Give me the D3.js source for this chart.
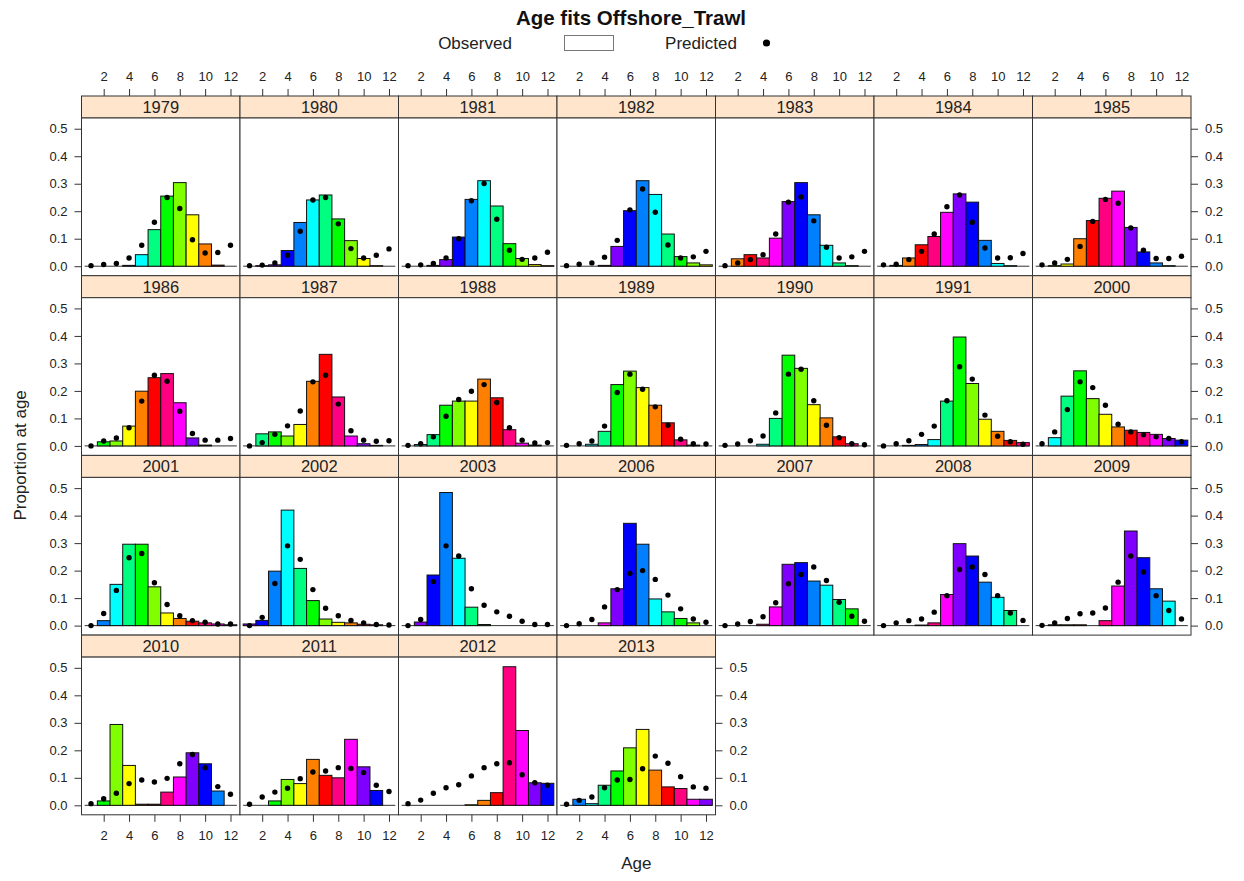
<!DOCTYPE html>
<html>
<head>
<meta charset="utf-8">
<script src="https://cdn.jsdelivr.net/npm/d3@7"></script>
<style>
  body { margin: 0; background: #fff; }
  text { font-family: "Liberation Sans", Arial, Helvetica, sans-serif; }
</style>
</head>
<body>
<svg id="chart" width="1244" height="881"></svg>
<script>
// Survey years, one panel each
const years = [1979, 1980, 1981, 1982, 1983, 1984, 1985,
               1986, 1987, 1988, 1989, 1990, 1991, 2000,
               2001, 2002, 2003, 2006, 2007, 2008, 2009,
               2010, 2011, 2012, 2013];

const ages = [1, 2, 3, 4, 5, 6, 7, 8, 9, 10, 11, 12];

// Observed proportion at age (rows follow `years`, columns follow `ages`)
const observed = [
  [0, 0, 0, 0.003, 0.042, 0.133, 0.255, 0.304, 0.187, 0.081, 0.004, 0],
  [0, 0.002, 0.005, 0.057, 0.159, 0.241, 0.259, 0.172, 0.093, 0.028, 0.002, 0],
  [0, 0, 0.003, 0.024, 0.106, 0.243, 0.311, 0.219, 0.082, 0.028, 0.006, 0.002],
  [0, 0, 0, 0.003, 0.072, 0.202, 0.311, 0.261, 0.117, 0.035, 0.012, 0.005],
  [0, 0.027, 0.042, 0.030, 0.102, 0.235, 0.304, 0.187, 0.076, 0.012, 0.002, 0],
  [0, 0.003, 0.030, 0.078, 0.108, 0.196, 0.263, 0.233, 0.094, 0.010, 0.002, 0],
  [0, 0.002, 0.008, 0.100, 0.166, 0.247, 0.273, 0.141, 0.052, 0.012, 0.002, 0],
  [0, 0.015, 0.018, 0.072, 0.199, 0.248, 0.263, 0.157, 0.029, 0.003, 0, 0],
  [0, 0.044, 0.051, 0.036, 0.078, 0.235, 0.333, 0.178, 0.036, 0.008, 0.002, 0],
  [0, 0.005, 0.041, 0.148, 0.163, 0.163, 0.243, 0.175, 0.059, 0.010, 0.003, 0],
  [0, 0, 0.006, 0.053, 0.223, 0.272, 0.212, 0.148, 0.084, 0.022, 0.003, 0],
  [0, 0, 0, 0.006, 0.100, 0.330, 0.282, 0.150, 0.102, 0.033, 0.008, 0],
  [0, 0, 0.002, 0.005, 0.023, 0.163, 0.396, 0.227, 0.097, 0.053, 0.020, 0.012],
  [0, 0.030, 0.181, 0.273, 0.172, 0.115, 0.069, 0.057, 0.049, 0.042, 0.027, 0.021],
  [0, 0.018, 0.150, 0.296, 0.296, 0.141, 0.046, 0.026, 0.016, 0.010, 0.006, 0.003],
  [0.006, 0.019, 0.198, 0.420, 0.208, 0.091, 0.024, 0.012, 0.010, 0.005, 0.003, 0],
  [0, 0.013, 0.184, 0.484, 0.245, 0.067, 0.004, 0, 0, 0, 0, 0],
  [0, 0, 0, 0.010, 0.134, 0.372, 0.296, 0.097, 0.050, 0.026, 0.010, 0],
  [0, 0, 0, 0.005, 0.068, 0.223, 0.229, 0.162, 0.147, 0.095, 0.061, 0],
  [0, 0, 0, 0.002, 0.010, 0.113, 0.298, 0.253, 0.158, 0.103, 0.055, 0],
  [0, 0.003, 0.003, 0.003, 0, 0.018, 0.144, 0.344, 0.247, 0.134, 0.089, 0],
  [0, 0.016, 0.294, 0.145, 0.004, 0.004, 0.048, 0.103, 0.191, 0.151, 0.052, 0],
  [0, 0, 0.016, 0.094, 0.079, 0.167, 0.109, 0.100, 0.240, 0.140, 0.054, 0],
  [0, 0, 0, 0, 0, 0.002, 0.018, 0.046, 0.504, 0.272, 0.082, 0.080],
  [0, 0.022, 0.006, 0.073, 0.125, 0.209, 0.276, 0.128, 0.067, 0.061, 0.022, 0.022]
];

// Model-predicted proportion at age
const predicted = [
  [0.002, 0.006, 0.010, 0.030, 0.076, 0.160, 0.250, 0.210, 0.096, 0.048, 0.050, 0.076],
  [0.002, 0.004, 0.012, 0.040, 0.127, 0.241, 0.250, 0.154, 0.064, 0.030, 0.040, 0.063],
  [0.002, 0.005, 0.010, 0.030, 0.100, 0.238, 0.301, 0.171, 0.058, 0.025, 0.030, 0.051],
  [0.002, 0.007, 0.012, 0.033, 0.094, 0.205, 0.281, 0.196, 0.077, 0.030, 0.034, 0.054],
  [0.002, 0.012, 0.024, 0.042, 0.117, 0.233, 0.252, 0.165, 0.069, 0.030, 0.034, 0.054],
  [0.005, 0.007, 0.024, 0.054, 0.117, 0.216, 0.259, 0.160, 0.066, 0.030, 0.031, 0.046],
  [0.005, 0.012, 0.025, 0.072, 0.163, 0.243, 0.229, 0.139, 0.058, 0.028, 0.028, 0.036],
  [0, 0.018, 0.029, 0.066, 0.163, 0.257, 0.235, 0.126, 0.045, 0.021, 0.021, 0.027],
  [0, 0.012, 0.042, 0.073, 0.127, 0.233, 0.257, 0.152, 0.055, 0.021, 0.017, 0.019],
  [0.002, 0.008, 0.033, 0.108, 0.169, 0.199, 0.223, 0.158, 0.066, 0.021, 0.011, 0.012],
  [0.002, 0.008, 0.018, 0.072, 0.194, 0.261, 0.206, 0.142, 0.075, 0.024, 0.008, 0.007],
  [0.002, 0.007, 0.019, 0.036, 0.120, 0.261, 0.279, 0.164, 0.075, 0.030, 0.008, 0.004],
  [0, 0.008, 0.019, 0.042, 0.072, 0.164, 0.288, 0.243, 0.112, 0.035, 0.015, 0.006],
  [0.008, 0.051, 0.132, 0.233, 0.212, 0.148, 0.079, 0.051, 0.041, 0.033, 0.027, 0.015],
  [0, 0.044, 0.128, 0.247, 0.262, 0.156, 0.077, 0.036, 0.018, 0.012, 0.006, 0.006],
  [0, 0.030, 0.153, 0.290, 0.241, 0.131, 0.063, 0.036, 0.019, 0.010, 0.004, 0.002],
  [0, 0.022, 0.160, 0.290, 0.253, 0.134, 0.074, 0.050, 0.034, 0.016, 0.004, 0.004],
  [0, 0.007, 0.022, 0.068, 0.131, 0.190, 0.200, 0.168, 0.111, 0.061, 0.024, 0.012],
  [0, 0.006, 0.015, 0.032, 0.083, 0.152, 0.186, 0.213, 0.164, 0.085, 0.034, 0.016],
  [0, 0.010, 0.018, 0.024, 0.049, 0.109, 0.204, 0.213, 0.186, 0.109, 0.046, 0.019],
  [0.001, 0.010, 0.026, 0.043, 0.046, 0.064, 0.158, 0.253, 0.195, 0.109, 0.055, 0.024],
  [0.006, 0.024, 0.044, 0.079, 0.092, 0.085, 0.098, 0.151, 0.185, 0.137, 0.068, 0.040],
  [0.004, 0.030, 0.048, 0.062, 0.097, 0.121, 0.125, 0.137, 0.134, 0.119, 0.073, 0.050],
  [0.006, 0.019, 0.044, 0.064, 0.075, 0.107, 0.137, 0.151, 0.155, 0.111, 0.082, 0.073],
  [0.004, 0.018, 0.030, 0.064, 0.092, 0.094, 0.133, 0.179, 0.153, 0.104, 0.067, 0.062]
];

const xTicks = [2, 4, 6, 8, 10, 12];
const yTicks = [0, 0.1, 0.2, 0.3, 0.4, 0.5];

const titleText = "Age fits Offshore_Trawl";
const legendLabels = ["Observed", "Predicted"];
const xLabel = "Age";
const yLabel = "Proportion at age";

// ---- layout ----
const nCols = 7;
const nRows = Math.ceil(years.length / nCols);
const gridLeft = 81.5, gridTop = 96;
const panelW = 158.5, stripH = 22, panelH = 157.7, rowStep = stripH + panelH;

const svg = d3.select("#chart");
const axisColor = "#333";

const x = d3.scaleLinear().domain([0.25, 12.75]).range([0, panelW]);
const y = d3.scaleLinear().domain([-0.0345, 0.539]).range([panelH, 0]);

// bars coloured by cohort (year class), cycling through a 12-step rainbow
const cohortColor = (year, age) => {
  const k = ((year - age) % 12 + 12) % 12;
  return d3.hsl(k * 30, 1, 0.5).formatHex();
};

// ---- title and legend ----
svg.append("text").attr("x", 631).attr("y", 25).attr("text-anchor", "middle")
  .attr("font-size", 20.5).attr("font-weight", "bold").attr("fill", "#111").text(titleText);

svg.append("text").attr("x", 475).attr("y", 49).attr("text-anchor", "middle")
  .attr("font-size", 17).attr("fill", "#222").text(legendLabels[0]);
svg.append("rect").attr("x", 564.5).attr("y", 35.5).attr("width", 49).attr("height", 15)
  .attr("fill", "#fff").attr("stroke", "#777");
svg.append("text").attr("x", 701).attr("y", 49).attr("text-anchor", "middle")
  .attr("font-size", 17).attr("fill", "#222").text(legendLabels[1]);
svg.append("circle").attr("cx", 766.5).attr("cy", 43).attr("r", 3.6).attr("fill", "#000");

const styleAxis = sel => {
  sel.select(".domain").remove();
  sel.selectAll("line").attr("stroke", axisColor);
  sel.selectAll("text").attr("font-size", 13).attr("fill", "#222")
    .attr("font-family", '"Liberation Sans", Arial, sans-serif');
};

// ---- panels ----
years.forEach((yr, i) => {
  const col = i % nCols, row = Math.floor(i / nCols);
  const px = gridLeft + col * panelW;
  const py = gridTop + row * rowStep;
  const g = svg.append("g").attr("transform", `translate(${px},${py})`);

  // strip
  g.append("rect").attr("x", 0).attr("y", 0).attr("width", panelW).attr("height", stripH)
    .attr("fill", "#ffe5cc").attr("stroke", axisColor).attr("stroke-width", 1);
  g.append("text").attr("x", panelW / 2).attr("y", stripH / 2 + 6)
    .attr("text-anchor", "middle").attr("font-size", 16.5).attr("fill", "#222").text(yr);

  const p = g.append("g").attr("transform", `translate(0,${stripH})`);
  p.append("rect").attr("width", panelW).attr("height", panelH).attr("fill", "#fff");

  // zero baseline (zero-height bars)
  p.append("line").attr("x1", x(0.5)).attr("x2", x(12.5))
    .attr("y1", y(0)).attr("y2", y(0)).attr("stroke", "#333").attr("stroke-width", 1);

  const obs = observed[i];
  p.selectAll("rect.bar").data(ages.filter((a, j) => obs[j] > 0)).join("rect")
    .attr("class", "bar")
    .attr("x", a => x(a - 0.5))
    .attr("width", x(1) - x(0))
    .attr("y", a => y(obs[a - 1]))
    .attr("height", a => y(0) - y(obs[a - 1]))
    .attr("fill", a => cohortColor(yr, a))
    .attr("stroke", "#111").attr("stroke-width", 1);

  const pred = predicted[i];
  p.selectAll("circle.pt").data(ages).join("circle")
    .attr("class", "pt")
    .attr("cx", a => x(a))
    .attr("cy", a => y(pred[a - 1]))
    .attr("r", 2.7).attr("fill", "#000");

  p.append("rect").attr("width", panelW).attr("height", panelH)
    .attr("fill", "none").attr("stroke", axisColor).attr("stroke-width", 1);

  // top axis above the first row
  if (row === 0) {
    g.append("g").call(d3.axisTop(x).tickValues(xTicks).tickSize(7).tickPadding(8))
      .call(styleAxis);
  }
  // bottom axis under the last row
  if (row === nRows - 1) {
    p.append("g").attr("transform", `translate(0,${panelH})`)
      .call(d3.axisBottom(x).tickValues(xTicks).tickSize(7).tickPadding(9))
      .call(styleAxis);
  }
  // left axis on first column
  if (col === 0) {
    p.append("g").call(d3.axisLeft(y).tickValues(yTicks).tickFormat(d3.format(".1f")).tickSize(7).tickPadding(7))
      .call(styleAxis);
  }
  // right axis on the last panel of each row
  const isLastInRow = col === nCols - 1 || i === years.length - 1;
  if (isLastInRow) {
    p.append("g").attr("transform", `translate(${panelW},0)`)
      .call(d3.axisRight(y).tickValues(yTicks).tickFormat(d3.format(".1f")).tickSize(7).tickPadding(7))
      .call(styleAxis);
  }
});

// ---- axis titles ----
const gridBottom = gridTop + nRows * rowStep;
svg.append("text").attr("x", gridLeft + nCols * panelW / 2).attr("y", 869)
  .attr("text-anchor", "middle").attr("font-size", 17).attr("fill", "#222").text(xLabel);
svg.append("text")
  .attr("transform", `translate(26,${(gridTop + gridBottom) / 2}) rotate(-90)`)
  .attr("text-anchor", "middle").attr("font-size", 17).attr("fill", "#222").text(yLabel);
</script>
</body>
</html>
